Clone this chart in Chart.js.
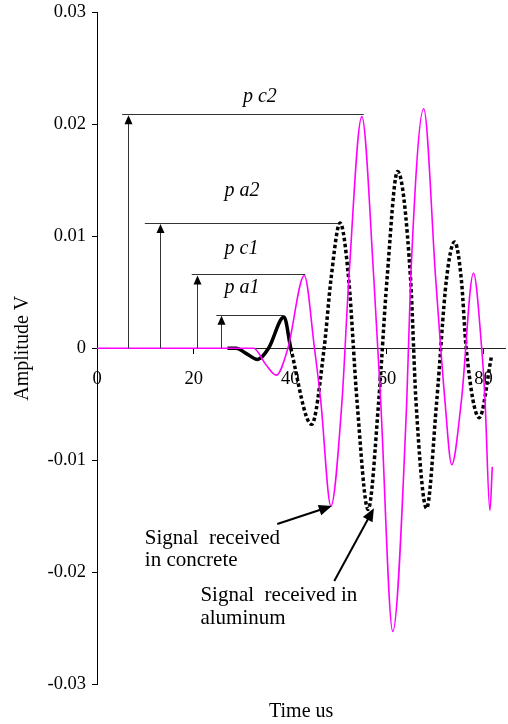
<!DOCTYPE html>
<html>
<head>
<meta charset="utf-8">
<script src="https://cdn.jsdelivr.net/npm/chart.js@4.4.0/dist/chart.umd.min.js"></script>
<style>
  body { margin: 0; background: #fff; }
  canvas { display: block; }
</style>
</head>
<body>
<canvas id="waveChart" width="508" height="724"></canvas>
<script>
// signal received in aluminum (black)
const alTime = [27, 28.8, 31.0, 33.2, 35.5, 38.7, 40.1, 44.4, 47.0, 48.4, 50.3, 52.1, 53.8, 56.1, 58.3, 60.0, 62.2, 64.9, 66.0, 68.2, 70.3, 72.3, 74.0, 75.4, 76.4, 79.1, 81.6];
const alAmp = [0, 0, -0.0005, -0.0010, 0, 0.0028, 0, -0.0068, 0, 0.0061, 0.0112, 0.0061, -0.0047, -0.0144, -0.0047, 0.0061, 0.0158, 0.0061, -0.0047, -0.0143, -0.0047, 0.0061, 0.0095, 0.0061, 0, -0.0062, -0.0008];

// signal received in concrete (magenta)
const coTime = [0, 32.4, 35.0, 37.1, 39.5, 42.9, 45.0, 46.3, 48.4, 50.7, 52.1, 54.8, 57.3, 58.7, 61.2, 64.1, 64.9, 67.6, 70.1, 72.0, 73.4, 75.4, 77.9, 79.6, 80.3, 81.3, 81.8];
const coAmp = [0, 0, -0.0015, -0.0024, 0, 0.0065, 0, -0.0047, -0.0141, -0.0047, 0.0061, 0.0207, 0.0061, -0.0047, -0.0253, -0.0047, 0.0061, 0.0214, 0.0061, -0.0047, -0.0104, -0.0047, 0.0067, 0, -0.0047, -0.0145, -0.0106];

const xTickValues = [0, 20, 40, 60, 80];
const yTickValues = [-0.03, -0.02, -0.01, 0, 0.01, 0.02, 0.03];

// peak markers (data units)
const markerNames = ["p c2", "p a2", "p c1", "p a1"];
const markerLevel = [0.0209, 0.0112, 0.0066, 0.0030];
const markerFrom = [5.2, 9.9, 19.6, 24.7];
const markerTo = [55.2, 49.9, 43.1, 38.7];
const markerArrowX = [6.4, 13.0, 20.6, 25.6];
const markerLabelX = [30.2, 26.4, 26.4, 26.4];
const markerLabelY = [0.0220, 0.0136, 0.0084, 0.0049];

// callouts (data units)
const calloutLines = [["Signal  received", "in concrete"], ["Signal  received in", "aluminum"]];
const calloutX = [9.9, 21.4];
const calloutY = [[-0.0175, -0.0195], [-0.0226, -0.0246]];
const calloutTail = [[37.3, -0.0157], [49.1, -0.0208]];
const calloutTip = [[48.6, -0.0141], [57.3, -0.0143]];

const serif = "'Liberation Serif', 'Times New Roman', serif";

function arrowHead(ctx, fx, fy, tx, ty, len, half) {
    const a = Math.atan2(ty - fy, tx - fx);
    ctx.beginPath();
    ctx.moveTo(tx, ty);
    ctx.lineTo(tx - len * Math.cos(a) + half * Math.sin(a), ty - len * Math.sin(a) - half * Math.cos(a));
    ctx.lineTo(tx - len * Math.cos(a) - half * Math.sin(a), ty - len * Math.sin(a) + half * Math.cos(a));
    ctx.closePath();
    ctx.fill();
}

const annotate = {
    id: "annotate",
    afterDatasetsDraw(chart) {
        const { ctx, scales: { x, y } } = chart;
        ctx.save();
        ctx.strokeStyle = "#333";
        ctx.fillStyle = "#000";
        ctx.lineWidth = 1;

        // peak markers
        markerNames.forEach((name, i) => {
            const yl = y.getPixelForValue(markerLevel[i]);
            const y0 = y.getPixelForValue(0);
            const ax = Math.round(x.getPixelForValue(markerArrowX[i])) + 0.5;
            ctx.beginPath();
            ctx.moveTo(x.getPixelForValue(markerFrom[i]), Math.round(yl) + 0.5);
            ctx.lineTo(x.getPixelForValue(markerTo[i]), Math.round(yl) + 0.5);
            ctx.moveTo(ax, y0);
            ctx.lineTo(ax, yl + 6);
            ctx.stroke();
            arrowHead(ctx, ax, y0, ax, yl + 1, 9, 4);
            ctx.font = "italic 20px " + serif;
            ctx.textAlign = "left";
            ctx.textBaseline = "alphabetic";
            ctx.fillText(name, x.getPixelForValue(markerLabelX[i]), y.getPixelForValue(markerLabelY[i]));
        });

        // callouts
        ctx.strokeStyle = "#000";
        ctx.lineWidth = 2;
        calloutLines.forEach((lines, i) => {
            ctx.font = "21px " + serif;
            lines.forEach((t, j) => {
                ctx.fillText(t, x.getPixelForValue(calloutX[i]), y.getPixelForValue(calloutY[i][j]));
            });
            const fx = x.getPixelForValue(calloutTail[i][0]);
            const fy = y.getPixelForValue(calloutTail[i][1]);
            const tx = x.getPixelForValue(calloutTip[i][0]);
            const ty = y.getPixelForValue(calloutTip[i][1]);
            const a = Math.atan2(ty - fy, tx - fx);
            ctx.beginPath();
            ctx.moveTo(fx, fy);
            ctx.lineTo(tx - 8 * Math.cos(a), ty - 8 * Math.sin(a));
            ctx.stroke();
            arrowHead(ctx, fx, fy, tx, ty, 13, 5.5);
        });
        ctx.restore();
    }
};

const ctx = document.getElementById("waveChart").getContext("2d");

new Chart(ctx, {
    type: "line",
    data: {
        datasets: [
            {
                label: "Signal received in concrete",
                data: coTime.map((t, i) => ({ x: t, y: coAmp[i] })),
                borderColor: "#ff00ff",
                borderWidth: 1.6,
                pointRadius: 0,
                cubicInterpolationMode: "monotone",
                order: 1
            },
            {
                label: "Signal received in aluminum",
                data: alTime.map((t, i) => ({ x: t, y: alAmp[i] })),
                borderColor: "#000",
                borderWidth: 3.5,
                pointRadius: 0,
                cubicInterpolationMode: "monotone",
                segment: {
                    borderDash: c => c.p0.parsed.x >= 40 ? [3.5, 2.5] : undefined
                },
                order: 2
            }
        ]
    },
    options: {
        responsive: false,
        animation: false,
        layout: { padding: { top: 12.5, right: 1, left: 0, bottom: 0 } },
        plugins: {
            legend: { display: false },
            tooltip: { enabled: false }
        },
        scales: {
            x: {
                type: "linear",
                position: { y: 0 },
                min: 0,
                max: 84.5,
                afterBuildTicks: s => { s.ticks = xTickValues.map(v => ({ value: v })); },
                ticks: {
                    font: { family: serif, size: 18.5 },
                    color: "#000",
                    padding: 15,
                    maxRotation: 0
                },
                grid: { display: true, drawOnChartArea: false, drawTicks: true, tickLength: 5, color: "#000" },
                border: { display: true, color: "#222", width: 1 }
            },
            xTitle: {
                type: "linear",
                axis: "x",
                position: "bottom",
                min: 0,
                max: 84.5,
                ticks: { display: false },
                grid: { display: false, drawTicks: false },
                border: { display: false },
                title: {
                    display: true,
                    text: "Time us",
                    font: { family: serif, size: 20 },
                    color: "#000",
                    padding: { top: 16, bottom: 0 }
                }
            },
            y: {
                type: "linear",
                min: -0.03,
                max: 0.03,
                afterBuildTicks: s => { s.ticks = yTickValues.map(v => ({ value: v })); },
                afterFit: s => { s.width = 97; s.paddingTop = 0; s.paddingBottom = 0; },
                ticks: {
                    font: { family: serif, size: 18.5 },
                    color: "#000",
                    padding: 6,
                    callback: v => String(+v.toFixed(3))
                },
                grid: { display: true, drawOnChartArea: false, drawTicks: true, tickLength: 5, color: "#000" },
                border: { display: true, color: "#000", width: 1 },
                title: {
                    display: true,
                    text: "Amplitude V",
                    font: { family: serif, size: 20 },
                    color: "#000",
                    padding: { top: 11, bottom: 0 }
                }
            }
        }
    },
    plugins: [annotate]
});
</script>
</body>
</html>
